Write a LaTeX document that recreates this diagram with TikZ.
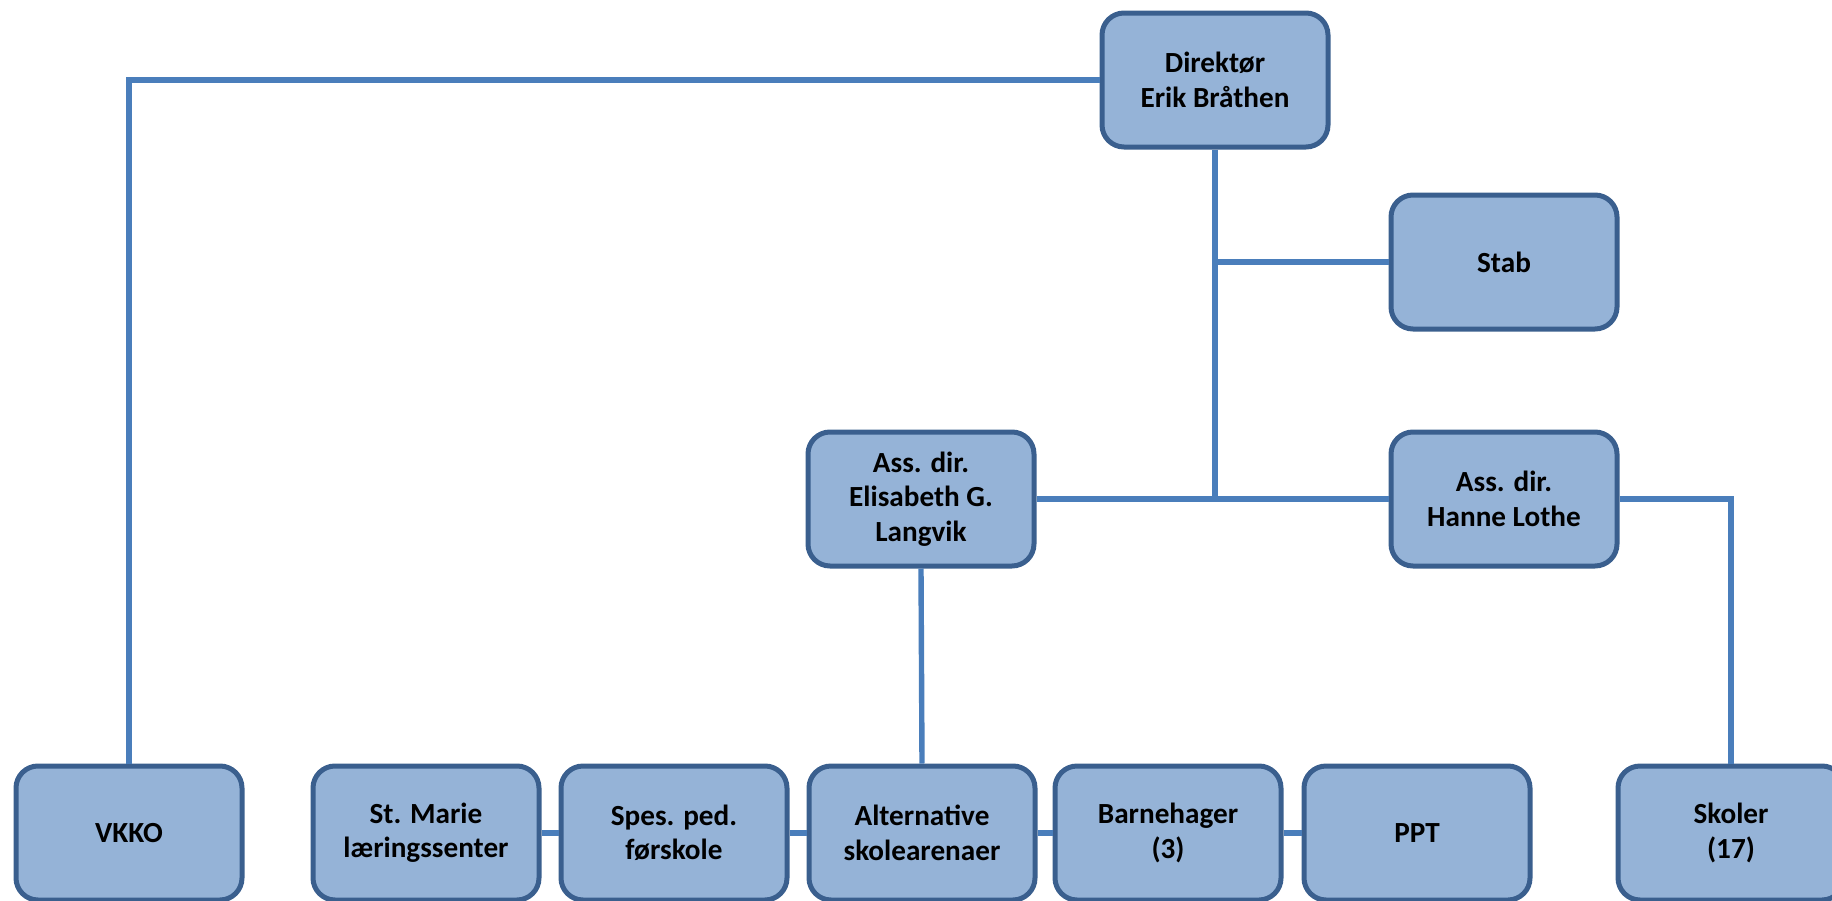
\documentclass[tikz,border=0pt]{standalone}
\usepackage{fontspec}
\setmainfont{Carlito}
\definecolor{boxfill}{HTML}{95B3D7}
\definecolor{boxline}{HTML}{3A5F8E}
\definecolor{conn}{HTML}{4A7EBB}
\begin{document}
\begin{tikzpicture}[x=0.5pt,y=-0.5pt,
  orgbox/.style={draw=boxline,fill=boxfill,line width=2.5pt,rounded corners=11pt,
    minimum width=113pt,minimum height=67pt,inner sep=0pt,align=center,
    font=\fontsize{14.6}{17.2}\selectfont\bfseries},
  link/.style={draw=conn,line width=2.7pt}]
\useasboundingbox (0,0) rectangle (1832,900);
% nodes
\node[orgbox] (dir) at (1215,80) {Direktør\\Erik Bråthen};
\node[orgbox] (stab) at (1504,262) {Stab};
\node[orgbox] (eli) at (921,499) {Ass. dir.\\Elisabeth G.\\Langvik};
\node[orgbox] (hanne) at (1504,499) {Ass. dir.\\Hanne Lothe};
\node[orgbox] (vkko) at (129,833) {VKKO};
\node[orgbox] (stm) at (426,833) {St. Marie\\læringssenter};
\node[orgbox] (spes) at (674,833) {Spes. ped.\\førskole};
\node[orgbox] (alt) at (922,833) {Alternative\\skolearenaer};
\node[orgbox] (barn) at (1168,833) {Barnehager\\(3)};
\node[orgbox] (ppt) at (1417,833) {PPT};
\node[orgbox] (sko) at (1731,833) {Skoler\\(17)};
% junctions
\coordinate (jmid) at (1215,499);
\coordinate (jsko) at (1731,499);
% connectors
\draw[link] (dir.west) -| (vkko.north);
\draw[link] (dir.south) -- (jmid);
\draw[link] (stab.west) -- (stab.west -| jmid);
\draw[link] (eli.east) -- (hanne.west);
\draw[link] (hanne.east) -- (jsko) -- (sko.north);
\draw[link] (eli.south) -- (alt.north);
\draw[link] (stm.east) -- (spes.west);
\draw[link] (spes.east) -- (alt.west);
\draw[link] (alt.east) -- (barn.west);
\draw[link] (barn.east) -- (ppt.west);
\end{tikzpicture}
\end{document}
